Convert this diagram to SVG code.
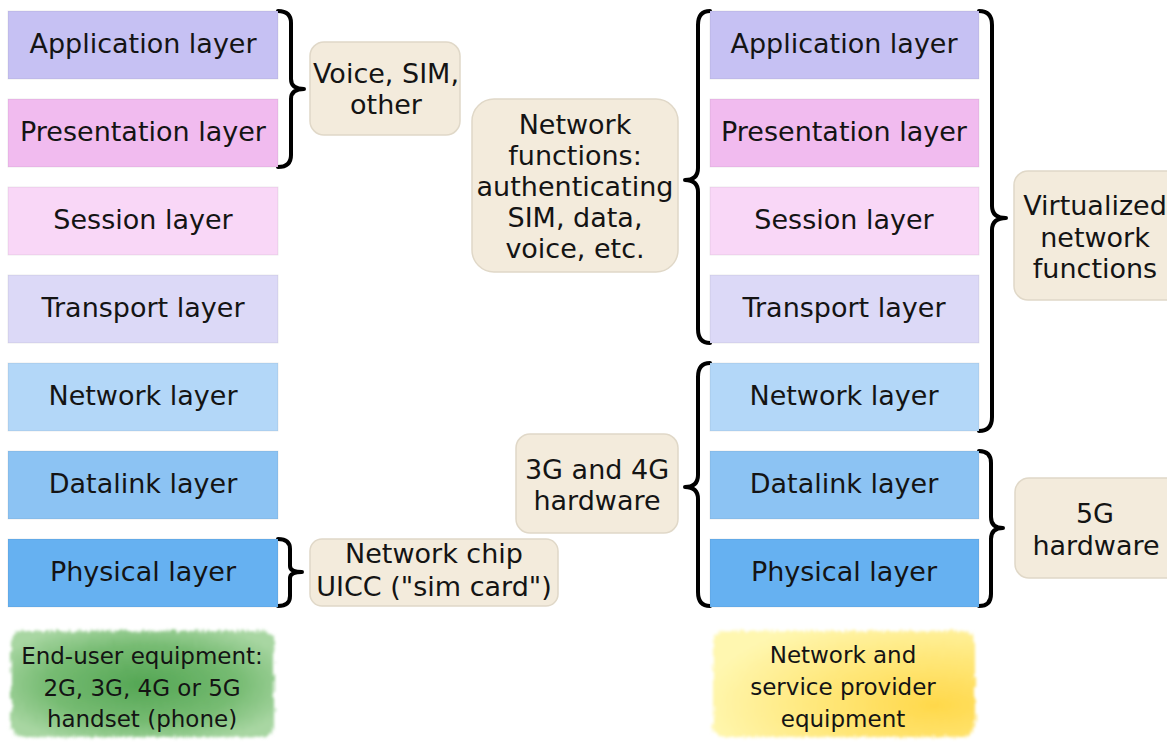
<svg xmlns="http://www.w3.org/2000/svg" width="1167" height="742" viewBox="0 0 1167 742">
<defs>
<style>
text{font-family:"DejaVu Sans","Liberation Sans",sans-serif;fill:#141414;text-anchor:middle}
.t{font-size:27px}
.s{font-size:23px}
.layer{stroke:#000;stroke-opacity:0.07;stroke-width:1}
.note{fill:#f3ebdc;stroke:#e0d8c8;stroke-width:1.5}
.brace{fill:none;stroke:#000;stroke-width:4;stroke-linecap:round;stroke-linejoin:round}
</style>
<radialGradient id="gGreen" cx="0.5" cy="0.5" r="0.6">
<stop offset="0" stop-color="#54a654"/>
<stop offset="0.6" stop-color="#76bb72"/>
<stop offset="1" stop-color="#a8d6a2"/>
</radialGradient>
<radialGradient id="gYellow" cx="0.85" cy="0.7" r="0.9">
<stop offset="0" stop-color="#ffd84a"/>
<stop offset="0.5" stop-color="#ffe77a"/>
<stop offset="1" stop-color="#fff7b0"/>
</radialGradient>
<filter id="fuzzy" x="-10%" y="-10%" width="120%" height="120%">
<feTurbulence type="fractalNoise" baseFrequency="0.9 0.08" numOctaves="2" seed="3" result="n"/>
<feDisplacementMap in="SourceGraphic" in2="n" scale="8" xChannelSelector="R" yChannelSelector="G" result="d"/>
<feGaussianBlur in="d" stdDeviation="1.5"/>
</filter>
</defs>
<rect width="1167" height="742" fill="#ffffff"/>

<g id="connectors">
<path class="brace" d="M278,11 Q291,11 291,23 L291,79 Q291,89 304,89 Q291,89 291,99 L291,155 Q291,167 278,167"/>
<path class="brace" d="M278,539 Q290,539 290,549 L290,566 Q290,572 302,572 Q290,572 290,578 L290,596 Q290,606 278,606"/>
<path class="brace" d="M710,11 Q698,11 698,25 L698,168 Q698,180 685,180 Q698,180 698,192 L698,329 Q698,343 710,343"/>
<path class="brace" d="M710,363 Q698,363 698,377 L698,475 Q698,487 685,487 Q698,487 698,499 L698,592 Q698,606 710,606"/>
<path class="brace" d="M979,11 Q992,11 992,25 L992,206 Q992,218 1006,218 Q992,218 992,230 L992,417 Q992,431 979,431"/>
<path class="brace" d="M979,451 Q991,451 991,463 L991,517 Q991,528 1003,528 Q991,528 991,539 L991,594 Q991,606 979,606"/>
</g>

<g id="left-application"><rect class="layer" x="8" y="11" width="270" height="68" fill="#c6c1f3"/><text class="t" x="143" y="53">Application layer</text></g>
<g id="left-presentation"><rect class="layer" x="8" y="99" width="270" height="68" fill="#f1bbef"/><text class="t" x="143" y="141">Presentation layer</text></g>
<g id="left-session"><rect class="layer" x="8" y="187" width="270" height="68" fill="#f9d7f7"/><text class="t" x="143" y="229">Session layer</text></g>
<g id="left-transport"><rect class="layer" x="8" y="275" width="270" height="68" fill="#dcd9f7"/><text class="t" x="143" y="317">Transport layer</text></g>
<g id="left-network"><rect class="layer" x="8" y="363" width="270" height="68" fill="#b3d7f8"/><text class="t" x="143" y="405">Network layer</text></g>
<g id="left-datalink"><rect class="layer" x="8" y="451" width="270" height="68" fill="#8cc3f3"/><text class="t" x="143" y="493">Datalink layer</text></g>
<g id="left-physical"><rect class="layer" x="8" y="539" width="270" height="68" fill="#66b1f1"/><text class="t" x="143" y="581">Physical layer</text></g>

<g id="right-application"><rect class="layer" x="710" y="11" width="269" height="68" fill="#c6c1f3"/><text class="t" x="844" y="53">Application layer</text></g>
<g id="right-presentation"><rect class="layer" x="710" y="99" width="269" height="68" fill="#f1bbef"/><text class="t" x="844" y="141">Presentation layer</text></g>
<g id="right-session"><rect class="layer" x="710" y="187" width="269" height="68" fill="#f9d7f7"/><text class="t" x="844" y="229">Session layer</text></g>
<g id="right-transport"><rect class="layer" x="710" y="275" width="269" height="68" fill="#dcd9f7"/><text class="t" x="844" y="317">Transport layer</text></g>
<g id="right-network"><rect class="layer" x="710" y="363" width="269" height="68" fill="#b3d7f8"/><text class="t" x="844" y="405">Network layer</text></g>
<g id="right-datalink"><rect class="layer" x="710" y="451" width="269" height="68" fill="#8cc3f3"/><text class="t" x="844" y="493">Datalink layer</text></g>
<g id="right-physical"><rect class="layer" x="710" y="539" width="269" height="68" fill="#66b1f1"/><text class="t" x="844" y="581">Physical layer</text></g>

<g id="voice-sim"><rect class="note" x="310" y="42" width="150" height="93" rx="14"/><text class="t" x="386" y="83">Voice, SIM,</text><text class="t" x="386" y="114">other</text></g>
<g id="network-chip"><rect class="note" x="310" y="539" width="248" height="67" rx="12"/><text class="t" x="434" y="563">Network chip</text><text class="t" x="434" y="596">UICC ("sim card")</text></g>
<g id="network-functions"><rect class="note" x="472" y="99" width="206" height="173" rx="22"/>
<text class="t" x="575" y="134">Network</text><text class="t" x="575" y="165">functions:</text><text class="t" x="575" y="196">authenticating</text><text class="t" x="575" y="227">SIM, data,</text><text class="t" x="575" y="258">voice, etc.</text></g>
<g id="hw-3g4g"><rect class="note" x="516" y="434" width="162" height="99" rx="14"/><text class="t" x="597" y="479">3G and 4G</text><text class="t" x="597" y="510">hardware</text></g>
<g id="virtualized"><rect class="note" x="1014" y="171" width="175" height="129" rx="14"/><text class="t" x="1095" y="215">Virtualized</text><text class="t" x="1095" y="247">network</text><text class="t" x="1095" y="278">functions</text></g>
<g id="hw-5g"><rect class="note" x="1015" y="478" width="175" height="100" rx="14"/><text class="t" x="1095" y="523">5G</text><text class="t" x="1096" y="555">hardware</text></g>

<g id="end-user"><rect x="11" y="631" width="263" height="106" rx="12" fill="url(#gGreen)" filter="url(#fuzzy)"/>
<text class="s" x="142" y="664">End-user equipment:</text><text class="s" x="142" y="696">2G, 3G, 4G or 5G</text><text class="s" x="142" y="727">handset (phone)</text></g>
<g id="provider"><rect x="713" y="631" width="262" height="106" rx="12" fill="url(#gYellow)" filter="url(#fuzzy)"/>
<text class="s" x="843" y="663">Network and</text><text class="s" x="843" y="695">service provider</text><text class="s" x="843" y="727">equipment</text></g>
</svg>
